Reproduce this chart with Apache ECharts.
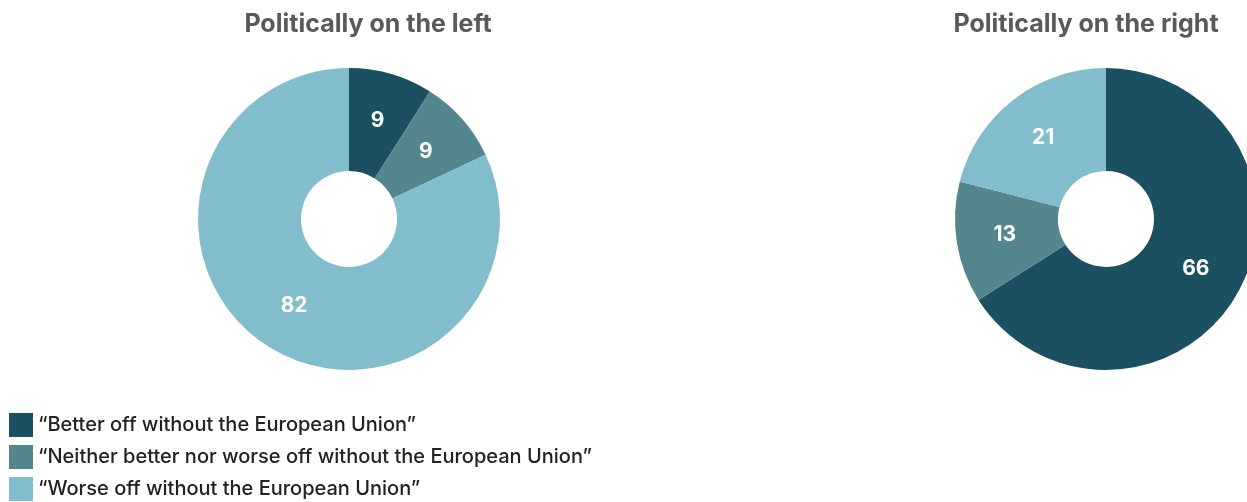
<!DOCTYPE html>
<html><head><meta charset="utf-8">
<script src="https://cdn.jsdelivr.net/npm/echarts@6/dist/echarts.min.js"></script>
<style>html,body{margin:0;padding:0;background:#fff;}#c{width:1247px;height:502px;}</style>
</head><body><div id="c"></div>
<script>
const categories = ['“Better off without the European Union”', '“Neither better nor worse off without the European Union”', '“Worse off without the European Union”'];
const leftValues = [9, 9, 82];
const rightValues = [66, 13, 21];
const titles = ['Politically on the left', 'Politically on the right'];
const colors = ['#1a5060', '#54878d', '#82bdcc'];

const chart = echarts.init(document.getElementById('c'));
function mk(vals){ return vals.map((v,i)=>({name:categories[i], value:v})); }
const labelStyle = {show:true, position:'inside', formatter:'{c}', color:'#fff', fontFamily:'Inter', fontWeight:'bold', fontSize:21};
chart.setOption({
  animation:false,
  color: colors,
  title: [
    {text:titles[0], left:368, top:12, textAlign:'center', padding:0, textStyle:{fontFamily:'Inter', fontWeight:'bold', fontSize:25, color:'#58595b'}},
    {text:titles[1], left:1086, top:12, textAlign:'center', padding:0, textStyle:{fontFamily:'Inter', fontWeight:'bold', fontSize:25, color:'#58595b'}}
  ],
  legend: {orient:'vertical', left:9, top:413, height:100, padding:0, itemWidth:24, itemHeight:24, itemGap:8, icon:'rect',
    textStyle:{fontFamily:'Inter', fontSize:20, fontWeight:500, color:'#222'},
    data: categories},
  series: [
    {type:'pie', center:[349,219], radius:[48,151], startAngle:90, clockwise:true, label:labelStyle, labelLine:{show:false},
     itemStyle:{borderWidth:0}, emphasis:{disabled:true}, data: mk(leftValues)},
    {type:'pie', center:[1106,219], radius:[48,151], startAngle:90, clockwise:true, label:labelStyle, labelLine:{show:false},
     itemStyle:{borderWidth:0}, emphasis:{disabled:true}, data: mk(rightValues)}
  ]
});
</script></body></html>
